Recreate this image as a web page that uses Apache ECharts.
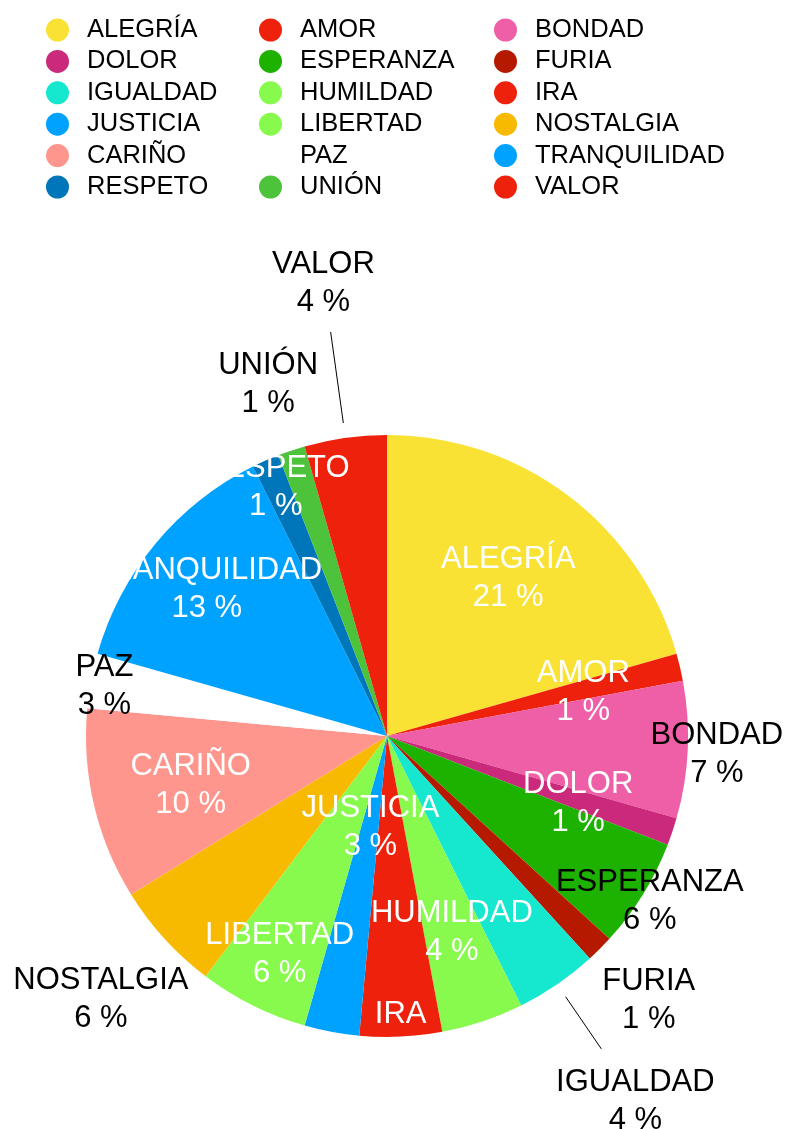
<!DOCTYPE html>
<html>
<head>
<meta charset="utf-8">
<title>Emociones</title>
<script src="https://cdn.jsdelivr.net/npm/echarts@6/dist/echarts.min.js"></script>
<style>
  html, body { margin: 0; padding: 0; background: #fff; }
  #chart { width: 789px; height: 1129px; }
</style>
</head>
<body>
<div id="chart"></div>
<script>
// categorías en el orden del pastel (sentido horario desde arriba)
const categorias = ['ALEGRÍA', 'AMOR', 'BONDAD', 'DOLOR', 'ESPERANZA', 'FURIA', 'IGUALDAD', 'HUMILDAD', 'IRA',
  'JUSTICIA', 'LIBERTAD', 'NOSTALGIA', 'CARIÑO', 'PAZ', 'TRANQUILIDAD', 'RESPETO', 'UNIÓN', 'VALOR'];
// respuestas por categoría
const valores = [14, 1, 5, 1, 4, 1, 3, 3, 3, 2, 4, 4, 7, 2, 9, 1, 1, 3];
const colores = ['#F9E234', '#EE220C', '#EF5FA7', '#CB297B', '#1DB100', '#B51A00', '#16E7CF', '#88FA4E', '#EE220C',
  '#00A2FF', '#88FA4E', '#F8BA00', '#FF968D', '#FFFFFF', '#00A2FF', '#0076BA', '#4DC33B', '#EE220C'];

// geometría del pastel
const CX = 387, CY = 736, R = 301;
// distancia de cada etiqueta al centro (en radios)
const radioEtiqueta = [0.668, 0.67, 1.097, 0.67, 1.027, 1.23, 1.46, 0.678, 0.98,
  0.3, 0.8, 1.286, 0.67, 0.955, 0.778, 0.915, 1.243, 1.528];
const etiquetaNegra = ['BONDAD', 'ESPERANZA', 'FURIA', 'IGUALDAD', 'NOSTALGIA', 'PAZ', 'UNIÓN', 'VALOR'];
const conLinea = { VALOR: [1.05, 1.355], IGUALDAD: [1.05, 1.26] };

const fuente = '"Liberation Sans", Arial, Helvetica, sans-serif';
const total = valores.reduce((a, b) => a + b, 0);

// ángulo medio de cada sector
const angMedio = [];
let acum = 0;
valores.forEach(v => {
  angMedio.push((acum + v / 2) / total * 2 * Math.PI);
  acum += v;
});
function polar(i, f) {
  return [CX + f * R * Math.sin(angMedio[i]), CY - f * R * Math.cos(angMedio[i])];
}

const myChart = echarts.init(document.getElementById('chart'));

const option = {
  animation: false,
  // leyenda en tres columnas
  legend: [0, 1, 2].map(c => ({
    orient: 'vertical',
    left: [46, 259, 494][c],
    top: 17,
    padding: 0,
    icon: 'circle',
    itemWidth: 23,
    itemHeight: 23,
    itemGap: 5.4,
    selectedMode: false,
    data: categorias.filter((_, i) => i % 3 === c),
    textStyle: { fontSize: 25.5, color: '#000', fontFamily: fuente, padding: [0, 0, 0, 13] }
  })),
  series: [{
    type: 'pie',
    center: [CX, CY],
    radius: R,
    startAngle: 90,
    clockwise: true,
    avoidLabelOverlap: false,
    emphasis: { disabled: true },
    itemStyle: { borderWidth: 0 },
    label: {
      show: true,
      position: 'outside',
      fontSize: 31,
      lineHeight: 38,
      fontFamily: fuente,
      align: 'center',
      formatter: p => p.name + '\n' + Math.round(valores[p.dataIndex] / total * 100) + ' %'
    },
    labelLine: { show: false, lineStyle: { color: '#000', width: 1 } },
    labelLayout: function (p) {
      const i = p.dataIndex;
      const pos = polar(i, radioEtiqueta[i]);
      const res = { x: pos[0], y: pos[1] + 3, align: 'center', verticalAlign: 'middle' };
      const l = conLinea[categorias[i]];
      if (l) res.labelLinePoints = [polar(i, l[0]), polar(i, l[1]), polar(i, l[1])];
      return res;
    },
    data: categorias.map((name, i) => ({
      name: name,
      value: valores[i],
      itemStyle: { color: colores[i] },
      label: { color: etiquetaNegra.includes(name) ? '#000' : '#fff' },
      labelLine: { show: !!conLinea[name] }
    }))
  }]
};
myChart.setOption(option);
</script>
</body>
</html>
